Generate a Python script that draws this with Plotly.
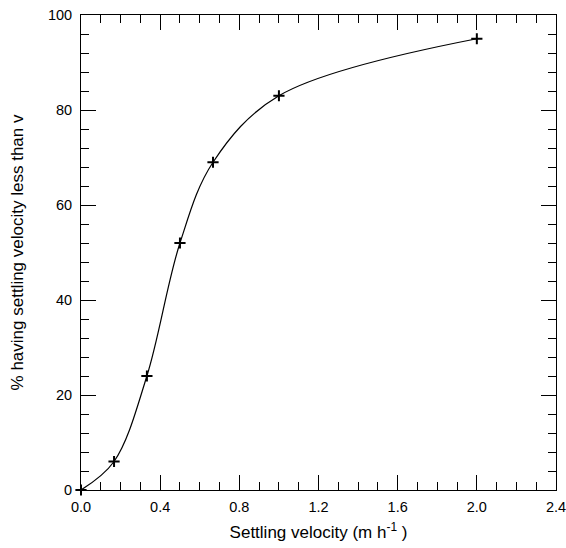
import plotly.graph_objects as go

velocity = [0.0, 0.167, 0.333, 0.5, 0.667, 1.0, 2.0]
percent_less = [0, 6, 24, 52, 69, 83, 95]

x_ticks = [0.0, 0.4, 0.8, 1.2, 1.6, 2.0, 2.4]
y_ticks = [0, 20, 40, 60, 80, 100]

FONT = "Liberation Sans, Arial, Helvetica, sans-serif"

fig = go.Figure()
fig.add_trace(go.Scatter(
    x=velocity, y=percent_less, mode="lines+markers",
    line=dict(color="black", width=1.2, shape="spline", smoothing=1.0),
    marker=dict(symbol="cross-thin", size=8, line=dict(color="black", width=2)),
    cliponaxis=False, showlegend=False, hoverinfo="skip",
))

axis_common = dict(
    showline=True, linecolor="black", linewidth=1, mirror="ticks",
    ticks="inside", ticklen=15, tickwidth=1, tickcolor="black",
    showgrid=False, zeroline=False, automargin=False,
    ticklabeloverflow="allow",
    tickfont=dict(family=FONT, size=14.5, color="black"),
    title_font=dict(family=FONT, size=17, color="black"),
)

fig.update_xaxes(
    range=[0, 2.4], tickvals=x_ticks, tickformat=".1f",
    minor=dict(ticks="inside", ticklen=8, tickcolor="black", dtick=0.1, tick0=0, showgrid=False),
    title_text="Settling velocity (m h<sup>-1</sup> )", title_standoff=11,
    ticklabelstandoff=4,
    **axis_common,
)
fig.update_yaxes(
    range=[0, 100], tickvals=y_ticks,
    minor=dict(ticks="inside", ticklen=8, tickcolor="black", dtick=4, tick0=0, showgrid=False),
    title_text="% having settling velocity less than v", title_standoff=19,
    ticklabelstandoff=5,
    **axis_common,
)

fig.update_layout(
    width=566, height=548,
    margin=dict(l=81, r=10, t=15, b=58),
    paper_bgcolor="white", plot_bgcolor="white",
    font=dict(family=FONT, color="black"),
)

fig.write_html(
    "out.html",
    config={"displayModeBar": False},
    post_script="document.body.style.margin='0';document.body.style.overflow='hidden';",
)
